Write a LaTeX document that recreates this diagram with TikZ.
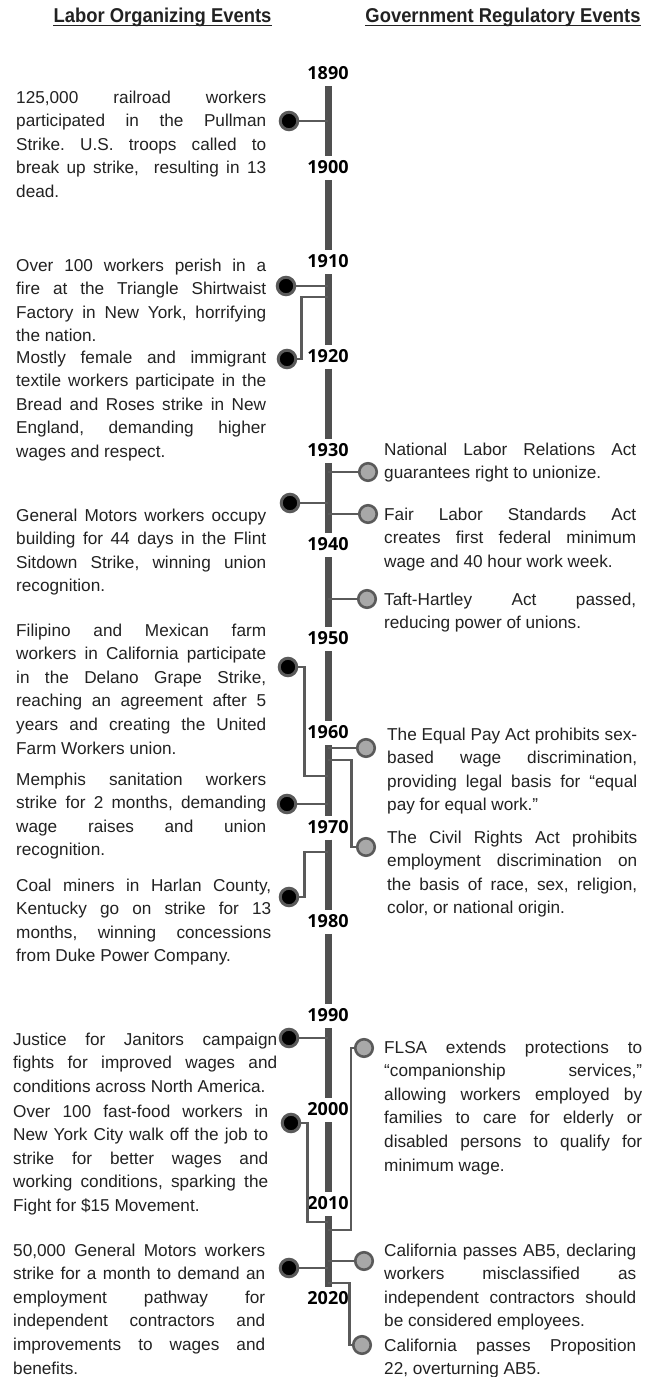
\documentclass[tikz,border=0pt]{standalone}
\usepackage{fontspec}
\usepackage{graphicx}
\setmainfont{Liberation Sans}
\newfontfamily\yearfont{Open Sans}
\usetikzlibrary{calc}
\definecolor{barc}{HTML}{505050}
\definecolor{linec}{HTML}{5A5A5A}
\definecolor{dotg}{HTML}{A8A8A8}
\definecolor{txt}{HTML}{222222}
\newlength\tw
\newsavebox\jbox
\newcommand\lst{\rule[-6.8pt]{0pt}{23.6pt}}
\newcommand\Jz[1]{\sbox\jbox{\lst#1}\ifdim\wd\jbox>\dimexpr\tw+6pt\relax
  \hbox to \tw{\resizebox{\tw}{\height}{\usebox\jbox}}\else\hbox to \tw{\lst#1}\fi}
\newcommand\Lz[1]{\hbox to \tw{\lst#1\hfil}}
\newcommand\parz[1]{\vbox{\frenchspacing\baselineskip=23.6pt\lineskiplimit=-50pt #1}}
\begin{document}
\begin{tikzpicture}[x=1pt,y=-1pt,
  para/.style={anchor=north west, inner sep=0pt, text=txt, font=\fontsize{17.2}{23.6}\selectfont, execute at begin node={\setlength\tw{#1}}},
  para/.default=250pt,
  yr/.style={inner sep=0pt, text=black, font=\yearfont\bfseries\fontsize{18}{18}\selectfont},
  hdr/.style={inner sep=0pt, anchor=base, text=txt, font=\bfseries\fontsize{20}{20}\selectfont},
  bar/.style={draw=barc, line width=7pt},
  conn/.style={draw=linec, line width=2.6pt},
  bdot/.style={circle, fill=black, draw=linec, line width=3pt, minimum size=17.5pt, inner sep=0pt},
  gdot/.style={circle, fill=dotg, draw=linec, line width=2.6pt, minimum size=17.5pt, inner sep=0pt}]
\useasboundingbox[fill=white] (0,0) rectangle (646,1377);

% headers
\node[hdr] (h1) at (162.5,22) {\scalebox{0.92}[1]{Labor Organizing Events}};
\node[hdr] (h2) at (503,22) {\scalebox{0.92}[1]{Government Regulatory Events}};
\draw[txt, line width=1.5pt] ($(h1.base west)+(0,3.5)$) -- ($(h1.base east)+(0,3.5)$);
\draw[txt, line width=1.5pt] ($(h2.base west)+(0,3.5)$) -- ($(h2.base east)+(0,3.5)$);

% years and axis
\coordinate (axis) at (328,0);
\foreach \yy [count=\i from 0] in {1890,1900,...,2020}
  \node[yr] (y\yy) at (328,73+94.2*\i) {\yy};
\foreach \a/\b in {1890/1900,1900/1910,1910/1920,1920/1930,1930/1940,1940/1950,1950/1960,1960/1970,1970/1980,1980/1990,1990/2000,2000/2010,2010/2020}
  \draw[bar] ($(y\a)+(0,13)$) -- ($(y\b)+(0,-11)$);

% left markers
\node[bdot] (m1) at (289,121) {};
\node[bdot] (m2) at (286,286) {};
\node[bdot] (m3) at (287,359) {};
\node[bdot] (m4) at (290,503) {};
\node[bdot] (m5) at (288,667) {};
\node[bdot] (m6) at (287,804) {};
\node[bdot] (m7) at (289,897) {};
\node[bdot] (m8) at (289,1038) {};
\node[bdot] (m9) at (291,1123) {};
\node[bdot] (m10) at (289,1268) {};
% right markers
\node[gdot] (g1) at (368,472) {};
\node[gdot] (g2) at (368,514) {};
\node[gdot] (g3) at (367,599) {};
\node[gdot] (g4) at (366,748) {};
\node[gdot] (g5) at (366,847) {};
\node[gdot] (g6) at (364,1048) {};
\node[gdot] (g7) at (364,1261) {};
\node[gdot] (g8) at (362,1345) {};

% bar attach points for bent connectors
\coordinate (a3) at (328,297);
\coordinate (a5) at (328,776);
\coordinate (a7) at (328,852);
\coordinate (a9) at (328,1222);
\coordinate (b5) at (328,760);
\coordinate (b6) at (328,1230);
\coordinate (b8) at (328,1283);

% connectors
\draw[conn] (m1.east) -- (m1.east -| axis);
\draw[conn] (m2.east) -- (m2.east -| axis);
\draw[conn] (m3.east) -- ++(4.5,0) |- (a3);
\draw[conn] (m4.east) -- (m4.east -| axis);
\draw[conn] (m5.east) -- ++(6,0) |- (a5);
\draw[conn] (m6.east) -- (m6.east -| axis);
\draw[conn] (m7.east) -- ++(5,0) |- (a7);
\draw[conn] (m8.east) -- (m8.east -| axis);
\draw[conn] (m9.east) -- ++(6,0) |- (a9);
\draw[conn] (m10.east) -- (m10.east -| axis);
\draw[conn] (g1.west) -- (g1.west -| axis);
\draw[conn] (g2.west) -- (g2.west -| axis);
\draw[conn] (g3.west) -- (g3.west -| axis);
\draw[conn] (g4.west) -- (g4.west -| axis);
\draw[conn] (g5.west) -- ++(-4.5,0) |- (b5);
\draw[conn] (g6.west) -- ++(-3,0) |- (b6);
\draw[conn] (g7.west) -- (g7.west -| axis);
\draw[conn] (g8.west) -- ++(-2.5,0) |- (b8);

% left texts
\node[para] (p1) at (16,86) {\parz{%
\Jz{125,000 railroad workers}
\Jz{participated in the Pullman}
\Jz{Strike. U.S. troops called to}
\Jz{break up strike,\ \ resulting in 13}
\Lz{dead.}}};
\node[para] (p2) at (16,254) {\parz{%
\Jz{Over 100 workers perish in a}
\Jz{fire at the Triangle Shirtwaist}
\Jz{Factory in New York, horrifying}
\Lz{the nation.}}};
\node[para] (p3) at (16,346) {\parz{%
\Jz{Mostly female and immigrant}
\Jz{textile workers participate in the}
\Jz{Bread and Roses strike in New}
\Jz{England, demanding higher}
\Lz{wages and respect.}}};
\node[para] (p4) at (16,504) {\parz{%
\Jz{General Motors workers occupy}
\Jz{building for 44 days in the Flint}
\Jz{Sitdown Strike, winning union}
\Lz{recognition.}}};
\node[para] (p5) at (16,619) {\parz{%
\Jz{Filipino and Mexican farm}
\Jz{workers in California participate}
\Jz{in the Delano Grape Strike,}
\Jz{reaching an agreement after 5}
\Jz{years and creating the United}
\Lz{Farm Workers union.}}};
\node[para] (p6) at (16,768) {\parz{%
\Jz{Memphis sanitation workers}
\Jz{strike for 2 months, demanding}
\Jz{wage raises and union}
\Lz{recognition.}}};
\node[para=255pt] (p7) at (16,874) {\parz{%
\Jz{Coal miners in Harlan County,}
\Jz{Kentucky go on strike for 13}
\Jz{months, winning concessions}
\Lz{from Duke Power Company.}}};
\node[para=264pt] (p8) at (13,1028) {\parz{%
\Jz{Justice for Janitors campaign}
\Jz{fights for improved wages and}
\Lz{conditions across North America.}}};
\node[para=255pt] (p9) at (13,1100) {\parz{%
\Jz{Over 100 fast-food workers in}
\Jz{New York City walk off the job to}
\Jz{strike for better wages and}
\Jz{working conditions, sparking the}
\Lz{Fight for \$15 Movement.}}};
\node[para=252pt] (p10) at (13,1239) {\parz{%
\Jz{50,000 General Motors workers}
\Jz{strike for a month to demand an}
\Jz{employment pathway for}
\Jz{independent contractors and}
\Jz{improvements to wages and}
\Lz{benefits.}}};

% right texts
\node[para=252pt] (q1) at (384,438) {\parz{%
\Jz{National Labor Relations Act}
\Lz{guarantees right to unionize.}}};
\node[para=252pt] (q2) at (384,503) {\parz{%
\Jz{Fair Labor Standards Act}
\Jz{creates first federal minimum}
\Lz{wage and 40 hour work week.}}};
\node[para=252pt] (q3) at (384,588) {\parz{%
\Jz{Taft-Hartley Act passed,}
\Lz{reducing power of unions.}}};
\node[para=250pt] (q4) at (387,723) {\parz{%
\Jz{The Equal Pay Act prohibits sex-}
\Jz{based wage discrimination,}
\Jz{providing legal basis for “equal}
\Lz{pay for equal work.”}}};
\node[para=250pt] (q5) at (387,826) {\parz{%
\Jz{The Civil Rights Act prohibits}
\Jz{employment discrimination on}
\Jz{the basis of race, sex, religion,}
\Lz{color, or national origin.}}};
\node[para=258pt] (q6) at (384,1036) {\parz{%
\Jz{FLSA extends protections to}
\Jz{“companionship services,”}
\Jz{allowing workers employed by}
\Jz{families to care for elderly or}
\Jz{disabled persons to qualify for}
\Lz{minimum wage.}}};
\node[para=252pt] (q7) at (384,1239) {\parz{%
\Jz{California passes AB5, declaring}
\Jz{workers misclassified as}
\Jz{independent contractors should}
\Lz{be considered employees.}}};
\node[para=252pt] (q8) at (384,1334) {\parz{%
\Jz{California passes Proposition}
\Lz{22, overturning AB5.}}};
\end{tikzpicture}
\end{document}
